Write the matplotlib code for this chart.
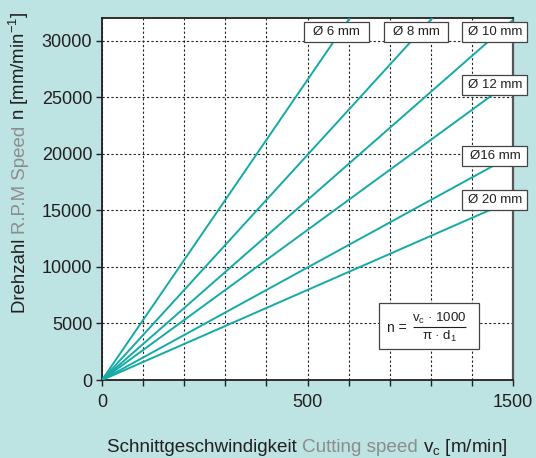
import matplotlib
matplotlib.use("Agg")
import matplotlib.pyplot as plt
from matplotlib.patches import Rectangle

plt.rcParams['font.family'] = ['Liberation Sans', 'DejaVu Sans']
plt.rcParams['mathtext.fontset'] = 'custom'
plt.rcParams['mathtext.rm'] = 'Liberation Sans'
plt.rcParams['mathtext.it'] = 'Liberation Sans'

# line end points (each line starts at 0, 0)
diameters = ['Ø 6 mm', 'Ø 8 mm', 'Ø 10 mm', 'Ø 12 mm', 'Ø16 mm', 'Ø 20 mm']
end_vc = [603, 804, 1000, 1000, 1000, 1000]
end_n = [32000, 32000, 31830, 26530, 19890, 15920]

x_ticks = [0, 100, 200, 300, 400, 500, 600, 700, 800, 900, 1000]
x_tick_labels = ['0', '', '', '', '', '500', '', '', '', '', '1500']
y_ticks = [0, 5000, 10000, 15000, 20000, 25000, 30000]

bg = '#bde3e3'
teal = '#14aaa6'
dark = '#231f20'
grey = '#8c8c8c'


def main():
    fig = plt.figure(figsize=(5.36, 4.58), dpi=100, facecolor=bg)
    ax = fig.add_axes([0.1903, 0.1703, 0.7668, 0.7904])
    ax.set_facecolor('white')

    for vc, n in zip(end_vc, end_n):
        ax.plot([0, vc], [0, n], color=teal, lw=1.4, zorder=3,
                solid_capstyle='butt')

    ax.set_xlim(0, 1000)
    ax.set_ylim(0, 32000)
    ax.set_xticks(x_ticks)
    ax.set_xticklabels(x_tick_labels)
    ax.set_yticks(y_ticks)
    ax.set_yticklabels([str(v) for v in y_ticks])
    ax.tick_params(axis='both', labelsize=13, colors=dark, length=4,
                   width=1.0, direction='out')
    ax.tick_params(axis='x', pad=6)
    ax.tick_params(axis='y', pad=3)
    ax.grid(True, color=dark, lw=0.8, linestyle=(0, (2, 2)), zorder=1)
    ax.set_axisbelow(True)
    for s in ax.spines.values():
        s.set_color(dark)
        s.set_linewidth(1.3)
    ax.spines['right'].set_color('#555555')
    ax.spines['right'].set_linewidth(1.6)

    # diameter label boxes (axes fraction centres)
    box_pos = [(0.571, 0.961), (0.764, 0.961), (0.956, 0.961),
               (0.956, 0.816), (0.956, 0.620), (0.956, 0.497)]
    bw, bh = 0.158, 0.0552
    for lab, (cx, cy) in zip(diameters, box_pos):
        ax.add_patch(Rectangle((cx - bw / 2, cy - bh / 2), bw, bh,
                               transform=ax.transAxes, facecolor='white',
                               edgecolor='#444444', lw=0.9, clip_on=False,
                               zorder=5))
        ax.text(cx, cy, lab, transform=ax.transAxes, ha='center',
                va='center', fontsize=9.5, color=dark, zorder=6)

    # formula box, drawn piece by piece
    ax.add_patch(Rectangle((0.674, 0.0856), 0.243, 0.127,
                           transform=ax.transAxes, facecolor='white',
                           edgecolor='#444444', lw=0.9, zorder=5))
    ax.text(0.693, 0.1436, 'n =', transform=ax.transAxes, ha='left',
            va='center', fontsize=10, color=dark, zorder=6)
    ax.plot([0.757, 0.886], [0.1464, 0.1464], transform=ax.transAxes,
            color=dark, lw=0.8, zorder=6, solid_capstyle='butt')
    ax.text(0.821, 0.1500, r'v$_\mathrm{c}$ · 1000', transform=ax.transAxes,
            ha='center', va='bottom', fontsize=9.5, color=dark, zorder=6)
    ax.text(0.821, 0.1420, r'π · d$_\mathrm{1}$', transform=ax.transAxes,
            ha='center', va='top', fontsize=9.5, color=dark, zorder=6)

    # multi-coloured axis labels
    fig.canvas.draw()
    r = fig.canvas.get_renderer()

    def width_of(s, size):
        t = fig.text(0, 0, s + 'x', fontsize=size)
        t2 = fig.text(0, 0, 'x', fontsize=size)
        w = t.get_window_extent(r).width - t2.get_window_extent(r).width
        t.remove()
        t2.remove()
        return w

    W, H = fig.get_size_inches() * fig.dpi

    xparts = [('Schnittgeschwindigkeit ', dark), ('Cutting speed ', grey),
              (r'v$_\mathrm{c}$ [m/min]', dark)]
    x0 = 107
    for s, c in xparts:
        fig.text(x0 / W, 6 / H, s, fontsize=13.6, color=c, ha='left',
                 va='baseline')
        x0 += width_of(s, 13.6)

    yparts = [('Drehzahl ', dark), ('R.P.M Speed ', grey),
              (r'n [mm/min$^{\mathrm{-1}}$]', dark)]
    y0 = 458 - 313
    for s, c in yparts:
        fig.text(25 / W, y0 / H, s, fontsize=13.4, color=c, ha='left',
                 va='baseline', rotation=90, rotation_mode='anchor')
        y0 += width_of(s, 13.4)

    fig.savefig('out.png', dpi=100, facecolor=bg)


if __name__ == "__main__":
    main()
